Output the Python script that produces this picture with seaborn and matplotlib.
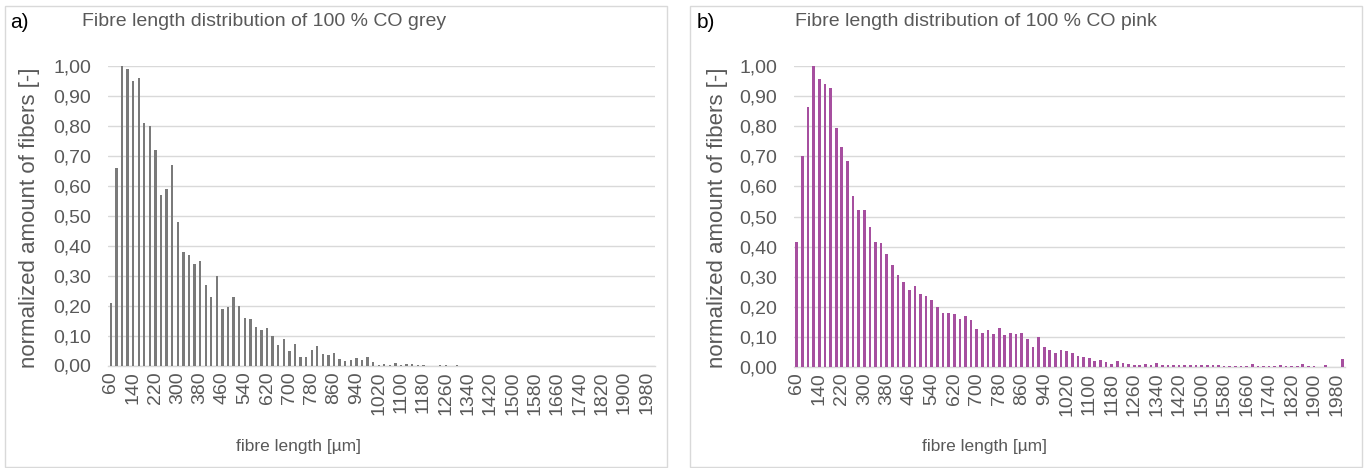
import matplotlib
matplotlib.use("Agg")
import matplotlib.pyplot as plt
import seaborn as sns
import pandas as pd
from matplotlib.patches import Rectangle

# ---------------- data ----------------
fibre_length = list(range(60, 2001, 20))  # category bins [µm]
tick_labels = [str(v) for v in fibre_length[::4]]

grey_values = [
    0.21, 0.66, 1.00, 0.99, 0.95, 0.96, 0.81, 0.80, 0.72, 0.57,
    0.59, 0.67, 0.48, 0.38, 0.37, 0.34, 0.35, 0.27, 0.23, 0.30,
    0.19, 0.195, 0.23, 0.20, 0.16, 0.155, 0.127, 0.118, 0.124, 0.098,
    0.068, 0.089, 0.050, 0.071, 0.028, 0.028, 0.053, 0.066, 0.039, 0.036,
    0.042, 0.021, 0.016, 0.017, 0.026, 0.017, 0.028, 0.011, 0.003, 0.005,
    0.003, 0.010, 0.003, 0.004, 0.006, 0.003, 0.001, 0.0, 0.0, 0.002,
    0.002, 0.0, 0.002, 0.0, 0.0, 0.0, 0.0, 0.0, 0.0, 0.0,
    0.0, 0.0, 0.0, 0.0, 0.0, 0.0, 0.0, 0.0, 0.0, 0.0,
    0.0, 0.0, 0.0, 0.0, 0.0, 0.0, 0.0, 0.0, 0.0, 0.0,
    0.0, 0.0, 0.0, 0.0, 0.0, 0.0, 0.0, 0.0,
]

pink_values = [
    0.415, 0.70, 0.865, 1.00, 0.958, 0.940, 0.928, 0.794, 0.730, 0.683,
    0.567, 0.523, 0.523, 0.465, 0.415, 0.413, 0.375, 0.339, 0.307, 0.281,
    0.256, 0.270, 0.241, 0.236, 0.221, 0.200, 0.179, 0.178, 0.175, 0.161,
    0.171, 0.156, 0.125, 0.114, 0.122, 0.111, 0.128, 0.105, 0.113, 0.111,
    0.113, 0.093, 0.068, 0.100, 0.068, 0.056, 0.045, 0.055, 0.053, 0.045,
    0.035, 0.034, 0.029, 0.020, 0.023, 0.016, 0.009, 0.019, 0.012, 0.009,
    0.008, 0.008, 0.010, 0.007, 0.012, 0.007, 0.007, 0.007, 0.007, 0.008,
    0.007, 0.008, 0.007, 0.007, 0.008, 0.007, 0.004, 0.003, 0.004, 0.003,
    0.003, 0.011, 0.004, 0.004, 0.004, 0.004, 0.005, 0.004, 0.004, 0.004,
    0.009, 0.004, 0.004, 0.0, 0.005, 0.0, 0.0, 0.025,
]

titles = ["Fibre length distribution of 100 % CO grey",
          "Fibre length distribution of 100 % CO pink"]
panel_tags = ["a)", "b)"]
x_title = "fibre length [µm]"
y_title = "normalized amount of fibers [-]"
y_ticks = [0.0, 0.1, 0.2, 0.3, 0.4, 0.5, 0.6, 0.7, 0.8, 0.9, 1.0]

# ---------------- style ----------------
sns.set_theme(style="white")
plt.rcParams["font.family"] = ["Liberation Sans", "DejaVu Sans"]
TXT = "#595959"
GRID = "#d9d9d9"

W, H = 1368, 468
fig = plt.figure(figsize=(W / 100, H / 100), dpi=100)
fig.patch.set_facecolor("white")


def px_axes(left, right, top, bottom):
    return fig.add_axes([left / W, (H - bottom) / H, (right - left) / W, (bottom - top) / H])


cats = [str(v) for v in fibre_length]
panels = [
    dict(values=grey_values, color="#7a7a7a", width=0.42,
         ax=(108, 655, 66, 365.5), box=(5, 667, 6, 467),
         tag_x=10, title_x=82, ylab_x=30, xlab_x=298),
    dict(values=pink_values, color="#a64f9f", width=0.48,
         ax=(794, 1345, 66, 367), box=(690, 1362, 6, 467),
         tag_x=697, title_x=795, ylab_x=718, xlab_x=985),
]

for i, p in enumerate(panels):
    # panel frame
    bx0, bx1, by0, by1 = p["box"]
    fig.patches.append(Rectangle((bx0 / W, (H - by1) / H), (bx1 - bx0) / W, (by1 - by0) / H,
                                 transform=fig.transFigure, fill=False,
                                 edgecolor=GRID, linewidth=1.0))
    ax = px_axes(*p["ax"])
    df = pd.DataFrame({"length": cats, "amount": p["values"]})
    sns.barplot(data=df, x="length", y="amount", order=cats, color=p["color"],
                saturation=1, width=p["width"], linewidth=0, ax=ax, zorder=3)
    ax.set_xlim(-0.5, len(cats) - 0.5)
    ax.set_ylim(0, 1.0)
    ax.set_yticks(y_ticks)
    ax.set_yticklabels([f"{v:.2f}".replace(".", ",") for v in y_ticks])
    ax.set_xticks(range(0, len(cats), 4))
    ax.set_xticklabels(tick_labels, rotation=90)
    ax.tick_params(axis="y", length=0, pad=12, labelsize=14, labelcolor=TXT)
    ax.tick_params(axis="x", length=0, pad=4, labelsize=14, labelcolor=TXT)
    ax.yaxis.grid(True, color=GRID, linewidth=1.0, zorder=0)
    ax.set_axisbelow(True)
    for s in ["top", "right", "left"]:
        ax.spines[s].set_visible(False)
    ax.spines["bottom"].set_color(GRID)
    ax.spines["bottom"].set_linewidth(1.0)
    ax.set_xlabel("")
    ax.set_ylabel("")

    fig.text(p["tag_x"] / W, (H - 22) / H, panel_tags[i], fontsize=15, color="black",
             ha="left", va="center")
    fig.text(p["title_x"] / W, (H - 22) / H, titles[i], fontsize=14, color=TXT,
             ha="left", va="center")
    fig.text(p["ylab_x"] / W, (H - 218) / H, y_title, fontsize=16, color=TXT,
             rotation=90, ha="center", va="center")
    fig.text(p["xlab_x"] / W, (H - 447) / H, x_title, fontsize=12.5, color=TXT,
             ha="center", va="center")

fig.savefig("out.png", dpi=100, facecolor="white")
